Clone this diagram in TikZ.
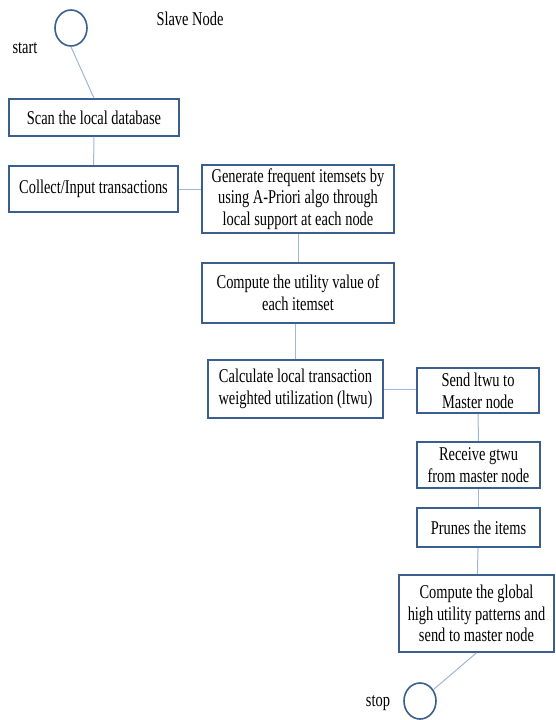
\documentclass[tikz,border=0pt]{standalone}
\usepackage{fontspec}
\setmainfont[FakeStretch=0.74]{Liberation Serif}
\usepackage{xcolor}
\usetikzlibrary{shapes.geometric}
\definecolor{boxblue}{HTML}{3A5F8F}
\definecolor{linkblue}{HTML}{9DB7D8}
\tikzset{
  stepbox/.style={draw=boxblue,line width=1.6pt,fill=white,align=center,inner sep=1pt,
    font=\fontsize{19.5}{21.7}\selectfont},
  terminal/.style={draw=boxblue,line width=1.6pt,ellipse,fill=white,inner sep=0pt,
    minimum width=32pt,minimum height=36pt},
  link/.style={draw=linkblue,line width=1pt},
  sidelabel/.style={font=\fontsize{19.5}{21}\selectfont}
}
\begin{document}
\begin{tikzpicture}[x=1pt,y=-1pt]
  \useasboundingbox (0,0) rectangle (555,720);
  \node[sidelabel] (title) at (190,19) {Slave Node};
  \node[terminal] (start) at (71,28) {};
  \node[sidelabel] (startlabel) at (25,48) {start};
  \node[stepbox,minimum width=170pt,minimum height=37pt] (scan) at (94,117.5) {Scan the local database};
  \node[stepbox,minimum width=169pt,minimum height=46pt] (collect) at (93.5,189) {Collect/Input transactions};
  \node[stepbox,minimum width=192pt,minimum height=68pt] (generate) at (298,199)
    {Generate frequent itemsets by\\using A-Priori algo through\\local support at each node};
  \node[stepbox,minimum width=192pt,minimum height=60pt] (utility) at (298,293)
    {Compute the utility value of\\each itemset};
  \node[stepbox,minimum width=175pt,minimum height=58pt] (calculate) at (295.5,389)
    {Calculate local transaction\\weighted utilization (ltwu)};
  \node[stepbox,minimum width=122pt,minimum height=45pt] (sendltwu) at (478,390.5)
    {Send ltwu to\\Master node};
  \node[stepbox,minimum width=123pt,minimum height=46pt] (receive) at (478.5,465)
    {Receive gtwu\\from master node};
  \node[stepbox,minimum width=123pt,minimum height=39pt] (prunes) at (478.5,527.5) {Prunes the items};
  \node[stepbox,minimum width=155pt,minimum height=77pt] (global) at (476.5,613.5)
    {Compute the global\\high utility patterns and\\send to master node};
  \node[terminal] (stop) at (420,701) {};
  \node[sidelabel] (stoplabel) at (378,703) {stop};
  \draw[link] (start.south) -- (scan.north);
  \draw[link] (scan) -- (collect);
  \draw[link] (collect.east) -- (collect.east -| generate.west);
  \draw[link] (generate) -- (utility);
  \draw[link] ([xshift=-3pt]utility.south) -- ([xshift=-3pt]utility.south |- calculate.north);
  \draw[link] (calculate.east) -- (calculate.east -| sendltwu.west);
  \draw[link] (sendltwu) -- (receive);
  \draw[link] (receive) -- (prunes);
  \draw[link] (prunes) -- (global);
  \draw[link] (global.south) -- (stop);
\end{tikzpicture}
\end{document}
